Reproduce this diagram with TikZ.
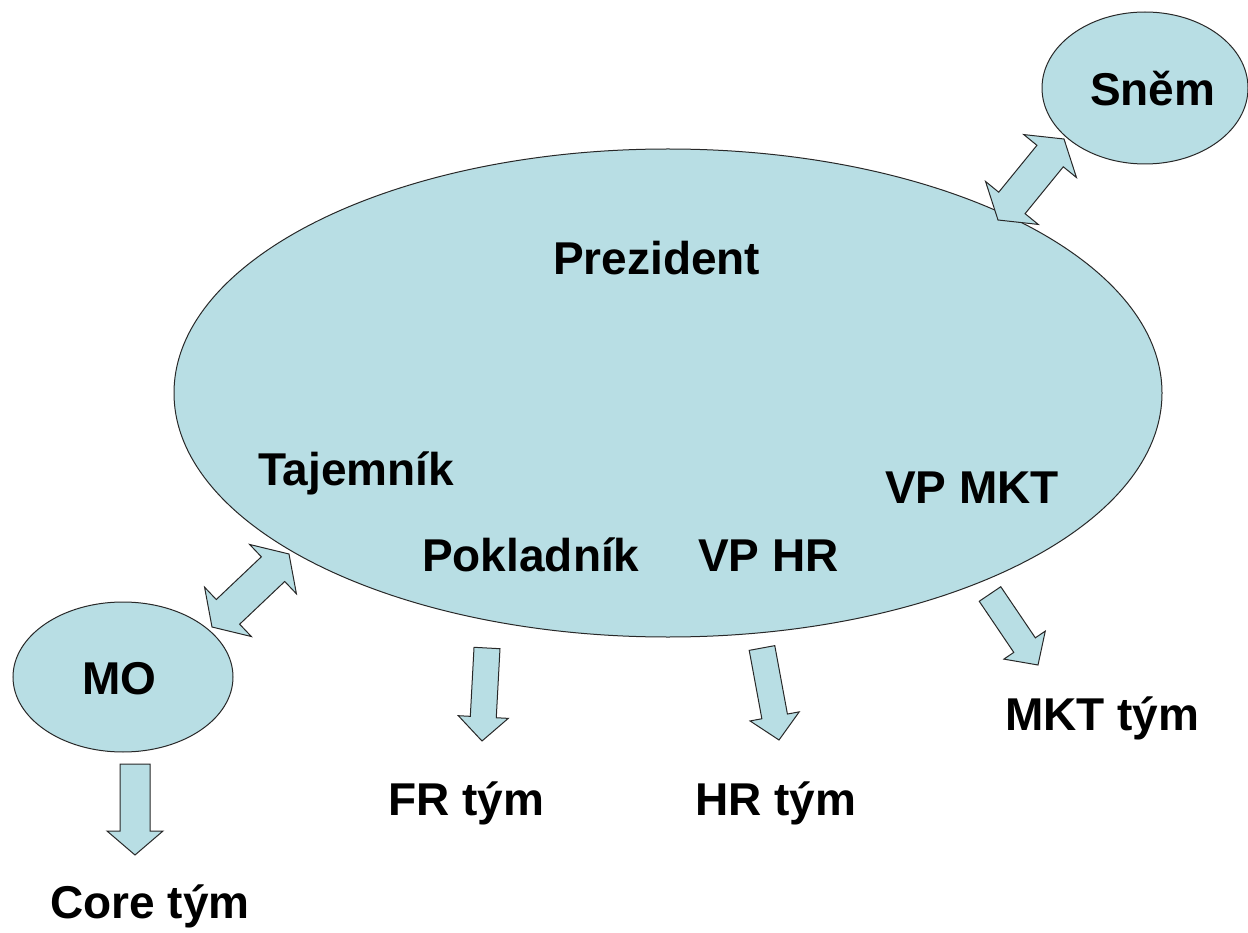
\documentclass[tikz,border=0pt]{standalone}
\usepackage{fontspec}
\setmainfont{Liberation Sans}
\usetikzlibrary{shapes.geometric,calc}
\definecolor{lb}{RGB}{184,222,228}
\definecolor{ol}{RGB}{40,40,40}
\tikzset{
  oval/.style={ellipse,draw=ol,fill=lb,line width=1pt,inner sep=0pt},
  lbl/.style={anchor=base west,inner sep=0pt,font=\fontsize{46}{50}\selectfont\bfseries},
  blk/.style={draw=ol,fill=lb,line width=1pt,line join=miter},
}
\newcommand\sarrow[5]{%
  \path ($(#2)!#5!(#1)$) coordinate (h);
  \filldraw[blk] ($(#1)!#3!90:(#2)$) -- ($(h)!#3!90:(#2)$) -- ($(h)!#4!90:(#2)$) -- (#2)
    -- ($(h)!#4!-90:(#2)$) -- ($(h)!#3!-90:(#2)$) -- ($(#1)!#3!-90:(#2)$) -- cycle;
}
\newcommand\darrow[5]{%
  \path ($(#1)!#5!(#2)$) coordinate (ha) ($(#2)!#5!(#1)$) coordinate (hb);
  \filldraw[blk] (#1) -- ($(ha)!#4!90:(#2)$) -- ($(ha)!#3!90:(#2)$) -- ($(hb)!#3!90:(#2)$)
    -- ($(hb)!#4!90:(#2)$) -- (#2) -- ($(hb)!#4!-90:(#2)$) -- ($(hb)!#3!-90:(#2)$)
    -- ($(ha)!#3!-90:(#2)$) -- ($(ha)!#4!-90:(#2)$) -- cycle;
}
\begin{document}
\begin{tikzpicture}[x=1pt,y=-1pt]
\useasboundingbox (0,0) rectangle (1248,933);
\fill[white] (0,0) rectangle (1248,933);
% ovals
\node[oval,minimum width=988pt,minimum height=488pt] (main) at (668,393) {};
\node[oval,minimum width=206pt,minimum height=152pt] (snem) at (1145,88) {};
\node[oval,minimum width=220pt,minimum height=150pt] (mo) at (123,677) {};
% labels
\node[lbl] (prez) at (553,275) {Prezident};
\node[lbl] (snemt) at (1090,106) {Sněm};
\node[lbl] (taj) at (258,485) {Tajemník};
\node[lbl] (pok) at (422,571) {Pokladník};
\node[lbl] (vphr) at (698,571) {VP HR};
\node[lbl] (vpmkt) at (885,503) {VP MKT};
\node[lbl] (mot) at (82,694) {MO};
\node[lbl] (fr) at (388,815) {FR tým};
\node[lbl] (hr) at (695,815) {HR tým};
\node[lbl] (mkt) at (1005,730) {MKT tým};
\node[lbl] (core) at (50,918) {Core tým};
% arrow end points
\coordinate (moA) at (212,627);
\coordinate (moB) at (289,554);
\coordinate (snA) at (998,220);
\coordinate (snB) at (1064,139);
\coordinate (frA) at (487,648);
\coordinate (frB) at (482,741);
\coordinate (hrA) at (762,648);
\coordinate (hrB) at (779,740);
\coordinate (mkA) at (990,594);
\coordinate (mkB) at (1038,665);
\coordinate (coA) at (135,764);
\coordinate (coB) at (135,855);
% block arrows
\darrow{moA}{moB}{17pt}{34pt}{22pt}
\darrow{snA}{snB}{17pt}{34pt}{22pt}
\sarrow{frA}{frB}{13pt}{25pt}{24pt}
\sarrow{hrA}{hrB}{13pt}{25pt}{24pt}
\sarrow{mkA}{mkB}{13pt}{25pt}{24pt}
\sarrow{coA}{coB}{15pt}{28pt}{24pt}
\end{tikzpicture}
\end{document}
